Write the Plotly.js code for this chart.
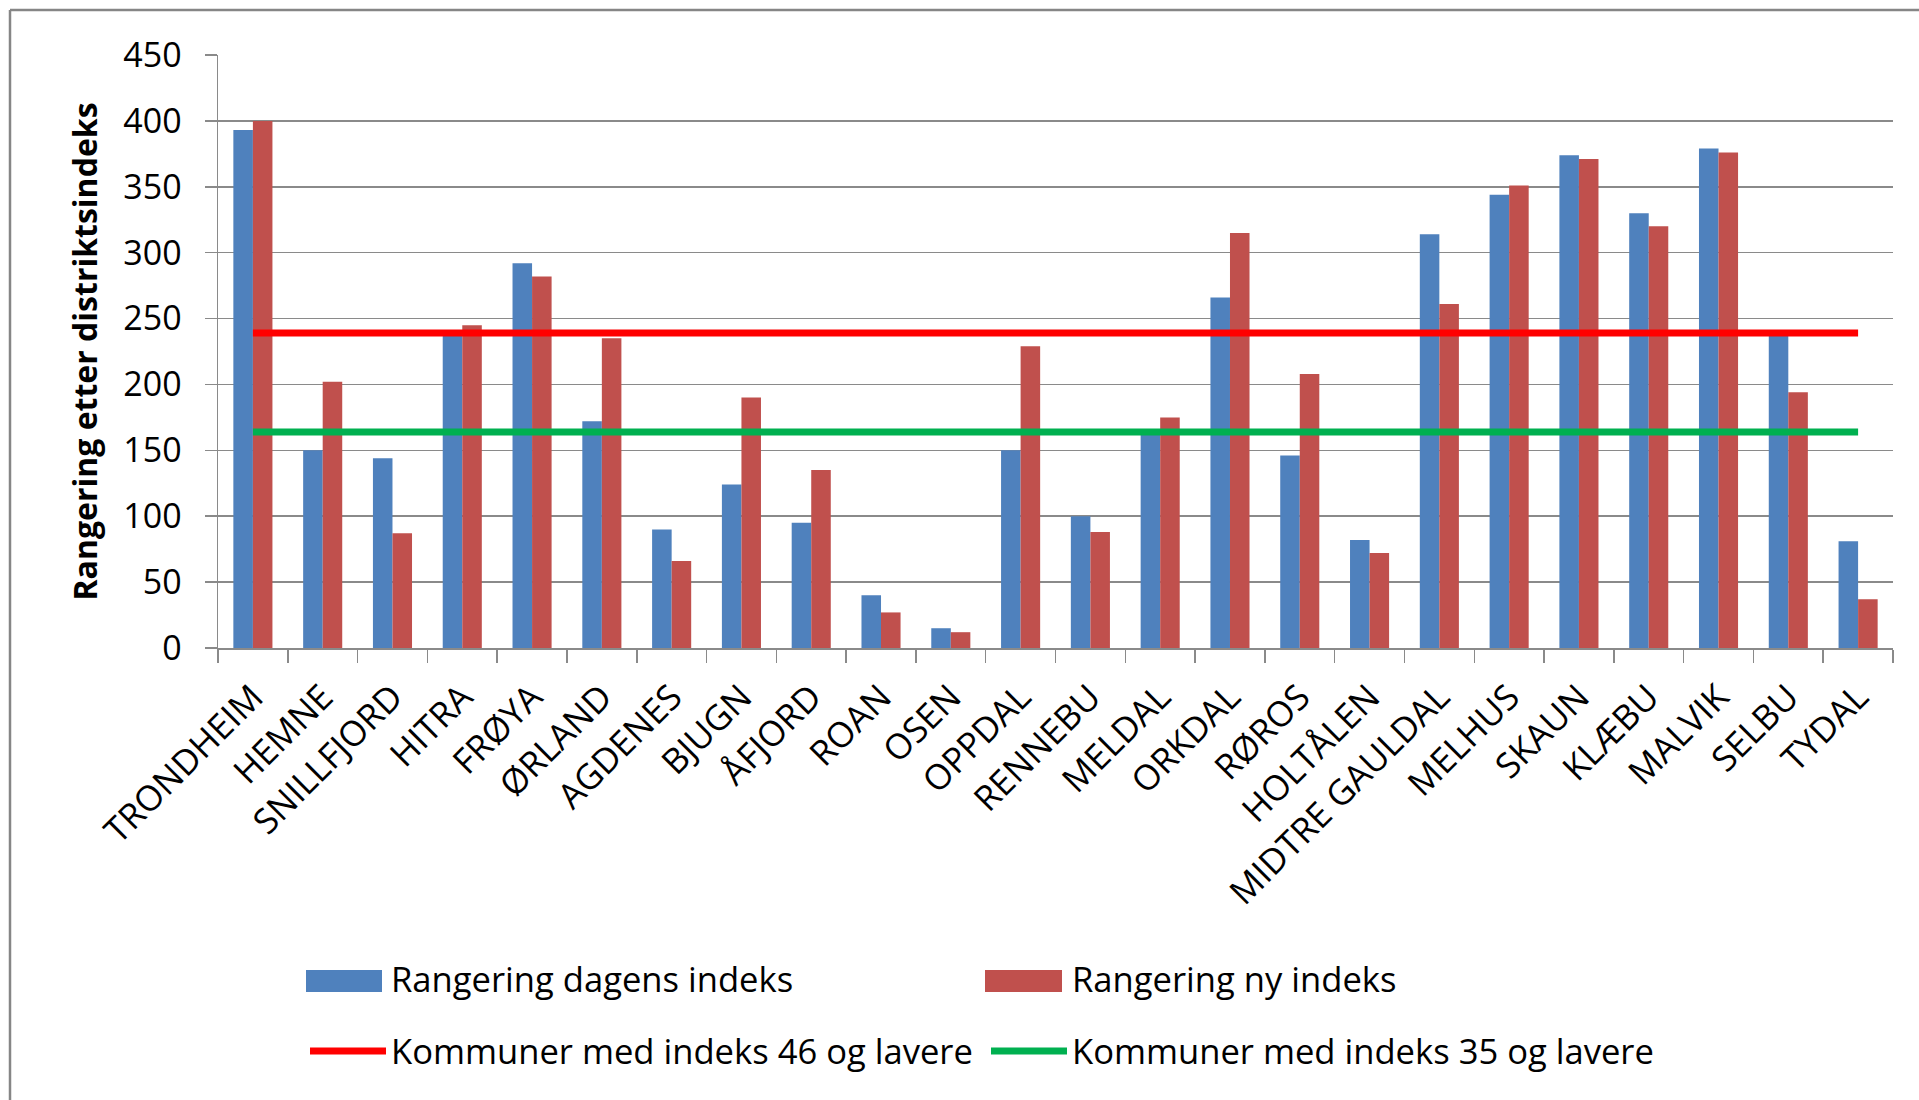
<!DOCTYPE html>
<html>
<head>
<meta charset="utf-8">
<script src="https://cdn.plot.ly/plotly-3.0.1.min.js"></script>
<style>
html,body{margin:0;padding:0;background:#fff;}
#chart{width:1919px;height:1100px;}
</style>
</head>
<body>
<div id="chart"></div>
<script>
const categories = ['TRONDHEIM','HEMNE','SNILLFJORD','HITRA','FRØYA','ØRLAND','AGDENES','BJUGN','ÅFJORD','ROAN','OSEN','OPPDAL','RENNEBU','MELDAL','ORKDAL','RØROS','HOLTÅLEN','MIDTRE GAULDAL','MELHUS','SKAUN','KLÆBU','MALVIK','SELBU','TYDAL'];
const rangeringDagens = [393,150,144,238,292,172,90,124,95,40,15,150,100,162,266,146,82,314,344,374,330,379,237,81];
const rangeringNy = [400,202,87,245,282,235,66,190,135,27,12,229,88,175,315,208,72,261,351,371,320,376,194,37];
const lineX = [categories[0], categories[categories.length-1]];
const grense46 = [239, 239];
const grense35 = [164, 164];
const yTicks = [0,50,100,150,200,250,300,350,400,450];

const FONT = '"Open Sans", "Liberation Sans", sans-serif';
const GRID = '#8a8a8a';
const BLUE = '#4F81BD', RED = '#C0504D';

const traces = [
  {type:'bar', name:'Rangering dagens indeks', x:categories, y:rangeringDagens,
   marker:{color:BLUE}, legend:'legend'},
  {type:'bar', name:'Rangering ny indeks', x:categories, y:rangeringNy,
   marker:{color:RED}, legend:'legend'},
  {type:'scatter', mode:'lines', name:'Kommuner med indeks 46 og lavere', x:lineX, y:grense46,
   line:{color:'#FF0000', width:7}, legend:'legend2'},
  {type:'scatter', mode:'lines', name:'Kommuner med indeks 35 og lavere', x:lineX, y:grense35,
   line:{color:'#00B050', width:7}, legend:'legend2'}
];

const pxX = p => (p - 218) / 1675;
const pxY = p => (648 - p) / 593;

const legendCommon = {orientation:'h', xanchor:'left', yanchor:'middle', itemwidth:76,
  entrywidth:590, entrywidthmode:'pixels', font:{family:FONT, size:34.6, color:'#000'},
  bgcolor:'rgba(0,0,0,0)'};

// wide rectangular legend keys for the two bar series (Excel style)
const keyRect = (x0, x1, color) => ({type:'rect', xref:'paper', yref:'paper', layer:'above',
  x0:pxX(x0), x1:pxX(x1), y0:pxY(992), y1:pxY(970), fillcolor:color, line:{width:0}});

const layout = {
  width:1919, height:1100,
  margin:{l:218, r:26, t:55, b:452},
  paper_bgcolor:'#fff', plot_bgcolor:'#fff',
  font:{family:FONT, size:34, color:'#000'},
  barmode:'group', bargap:0.44, bargroupgap:0,
  showlegend:true,
  xaxis:{type:'category', tickson:'boundaries', ticks:'outside', ticklen:13, tickwidth:1.5,
         tickcolor:GRID, showline:true, linecolor:GRID, linewidth:1.5, showgrid:false,
         tickangle:-45, ticklabelstandoff:13, tickfont:{family:FONT, size:35, color:'#000'}},
  yaxis:{range:[0,450], tickvals:yTicks, ticks:'outside', ticklen:12, tickwidth:1.5, tickcolor:GRID,
         showline:true, linecolor:GRID, linewidth:1.5, showgrid:true, gridcolor:GRID, gridwidth:1.5,
         zeroline:false, ticklabelstandoff:16, tickfont:{family:FONT, size:34, color:'#000'},
         title:{text:'<b>Rangering etter distriktsindeks</b>', standoff:16,
                font:{family:FONT, size:32, color:'#000'}}},
  legend:Object.assign({}, legendCommon, {x:pxX(305), y:pxY(979)}),
  legend2:Object.assign({}, legendCommon, {x:pxX(305), y:pxY(1051)}),
  shapes:[
    {type:'line', xref:'paper', yref:'paper', x0:pxX(10), x1:pxX(1935), y0:pxY(10), y1:pxY(10),
     line:{color:'#868686', width:2.5}},
    {type:'line', xref:'paper', yref:'paper', x0:pxX(10), x1:pxX(10), y0:pxY(10), y1:pxY(1120),
     line:{color:'#868686', width:2.5}},
    keyRect(306, 382, BLUE),
    keyRect(985, 1062, RED)
  ]
};

Plotly.newPlot('chart', traces, layout, {displayModeBar:false, staticPlot:true});
</script>
</body>
</html>
